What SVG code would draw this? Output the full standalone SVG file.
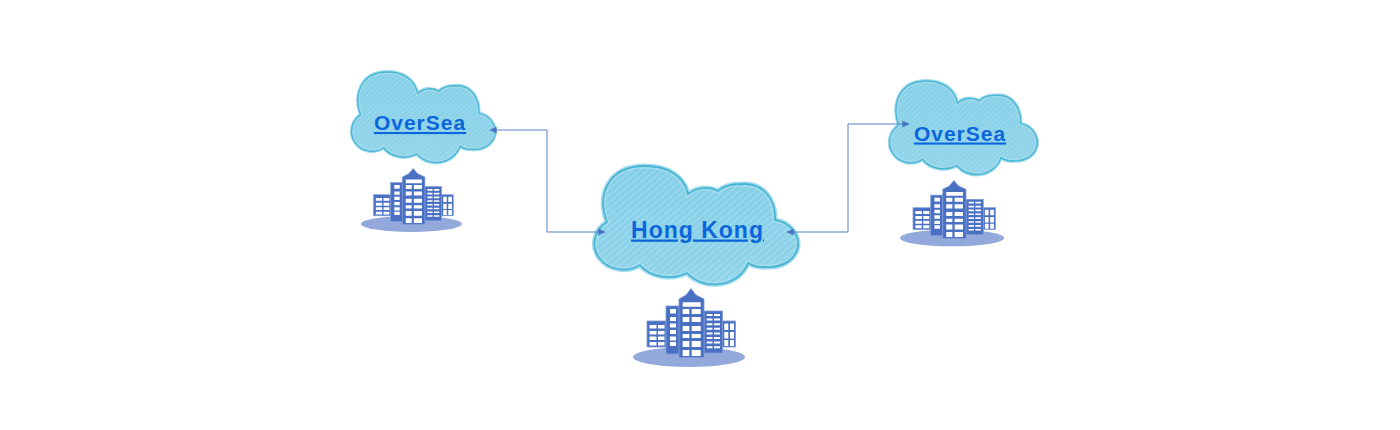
<svg xmlns="http://www.w3.org/2000/svg" width="1400" height="430" viewBox="0 0 1400 430">
<style>
.lbl{font-family:"Liberation Sans",Arial,sans-serif;font-weight:700;fill:#0b66dc;text-anchor:middle;text-decoration:underline;text-decoration-skip-ink:none}
.conn{fill:none;stroke:#5384c8;stroke-width:1}
.sk{fill:#4a70c4;stroke:#7f9ad6;stroke-width:.8}
.win{fill:#fff}
</style>
<defs>
<marker id="ah" viewBox="0 0 10 10" refX="9.500" refY="5" markerWidth="8" markerHeight="7" orient="auto-start-reverse" markerUnits="userSpaceOnUse"><path d="M0 0L10 5L0 10Z" fill="#4a72c4"/></marker>
<linearGradient id="cg" x1="0" y1="0" x2="0" y2="1"><stop offset="0" stop-color="#86cfe7"/><stop offset="1" stop-color="#93d5ea"/></linearGradient>
<pattern id="hatch" width="5" height="5" patternUnits="userSpaceOnUse" patternTransform="rotate(-40)"><path d="M0 1.500H5" stroke="#b6e4f3" stroke-width="1" opacity=".5"/><path d="M0 3.800H5" stroke="#72c3de" stroke-width=".7" opacity=".3"/></pattern>
<path id="cshape" d="M607 222C597 196 607 166 645 166C668 166 684 176 688 194A28 28 0 0 1 718 191C726 184 736 184 745 184C762 184 776 198 775 220C790 222 799 235 798 246C796 260 782 268 766 267Q756 268 748 263A35 30 0 0 1 687 273A33 24 0 0 1 640 265A29 26 0 0 1 607 222Z"/>
<g id="cloud">
<use href="#cshape" fill="url(#cg)" stroke="#a4dcee" stroke-width="5"/>
<use href="#cshape" fill="url(#hatch)"/>
<use href="#cshape" fill="none" stroke="#48b5d2" stroke-width="1.800"/>
</g>
<g id="city">
<ellipse cx="689" cy="357" rx="56" ry="10" fill="#93a9dc"/>
<rect class="sk" x="647" y="321" width="19" height="26"/>
<rect class="sk" x="722.500" y="321" width="13" height="26"/>
<rect class="sk" x="666" y="306" width="13" height="48"/>
<rect class="sk" x="704" y="311" width="18.500" height="42"/>
<path class="sk" d="M679 357.500V299L686 295L691 288.500L696 295L704 299V357.500Z"/>
<path class="win" d="M649.500 325h7v3.500h-7zM658 325h6.500v3.500h-6.500zM649.500 331h7v3.500h-7zM658 331h6.500v3.500h-6.500zM649.500 336.500h7v3.500h-7zM658 336.500h6.500v3.500h-6.500zM649.500 342h7v3.500h-7zM658 342h6.500v3.500h-6.500z"/>
<path class="win" d="M670 309h6v4.500h-6zM670 317h6v4h-6zM670 323.500h6v4h-6zM670 330h6v4h-6zM670 336.500h6v4h-6zM670 342h6v4h-6z"/>
<path class="win" d="M682.700 302.300h18v4.400h-18zM682.700 309h6.600v5h-6.600zM691.700 309h9v5h-9zM682.700 317h6.600v5h-6.600zM691.700 317h9v5h-9zM682.700 326h6.600v5h-6.600zM691.700 326h9v5h-9zM682.700 334h6.600v4h-6.600zM691.700 334h9v4h-9zM682.700 341h6.600v6h-6.600zM691.700 341h9v6h-9zM682.700 350h6.600v6h-6.600zM691.700 350h9v6h-9z"/>
<path class="win" d="M706.700 314h5.800v2h-5.800zM714 314h6v2h-6zM706.700 318.600h5.800v2h-5.800zM714 318.600h6v2h-6zM706.700 323.200h5.800v2h-5.800zM714 323.200h6v2h-6zM706.700 327.800h5.800v2h-5.800zM714 327.800h6v2h-6zM706.700 332.400h5.800v2h-5.800zM714 332.400h6v2h-6zM706.700 337h5.800v2h-5.800zM714 337h6v2h-6zM706.700 341.600h5.800v2h-5.800zM714 341.600h6v2h-6zM706.700 346.200h5.800v2h-5.800zM714 346.200h6v2h-6z"/>
<path class="win" d="M724.300 323.500h4v6.500h-4zM730 323.500h4v6.500h-4zM724.300 332h4v6.500h-4zM730 332h4v6.500h-4zM724.300 340h4v6h-4zM730 340h4v6h-4z"/>
</g>
</defs>
<g id="oversea-left">
<use href="#cloud" transform="translate(352 72) scale(.705 .765) translate(-595 -166)"/>
<use href="#city" transform="translate(361 168) scale(.9 .81) translate(-633 -288)"/>
<text class="lbl" x="420" y="130" font-size="21" letter-spacing="1">OverSea</text>
</g>
<g id="hong-kong">
<use href="#cloud"/>
<use href="#city"/>
<text class="lbl" x="697.500" y="237.500" font-size="23" letter-spacing="1">Hong Kong</text>
</g>
<g id="oversea-right">
<use href="#cloud" transform="translate(890 81) scale(.725 .79) translate(-595 -166)"/>
<use href="#city" transform="translate(900 180) scale(.93 .84) translate(-633 -288)"/>
<text class="lbl" x="960" y="140.500" font-size="21" letter-spacing="1">OverSea</text>
</g>
<g id="connectors">
<path class="conn" d="M490 130H547V232H605" marker-start="url(#ah)" marker-end="url(#ah)"/>
<path class="conn" d="M787 232H848V124H909" marker-start="url(#ah)" marker-end="url(#ah)"/>
</g>
</svg>
